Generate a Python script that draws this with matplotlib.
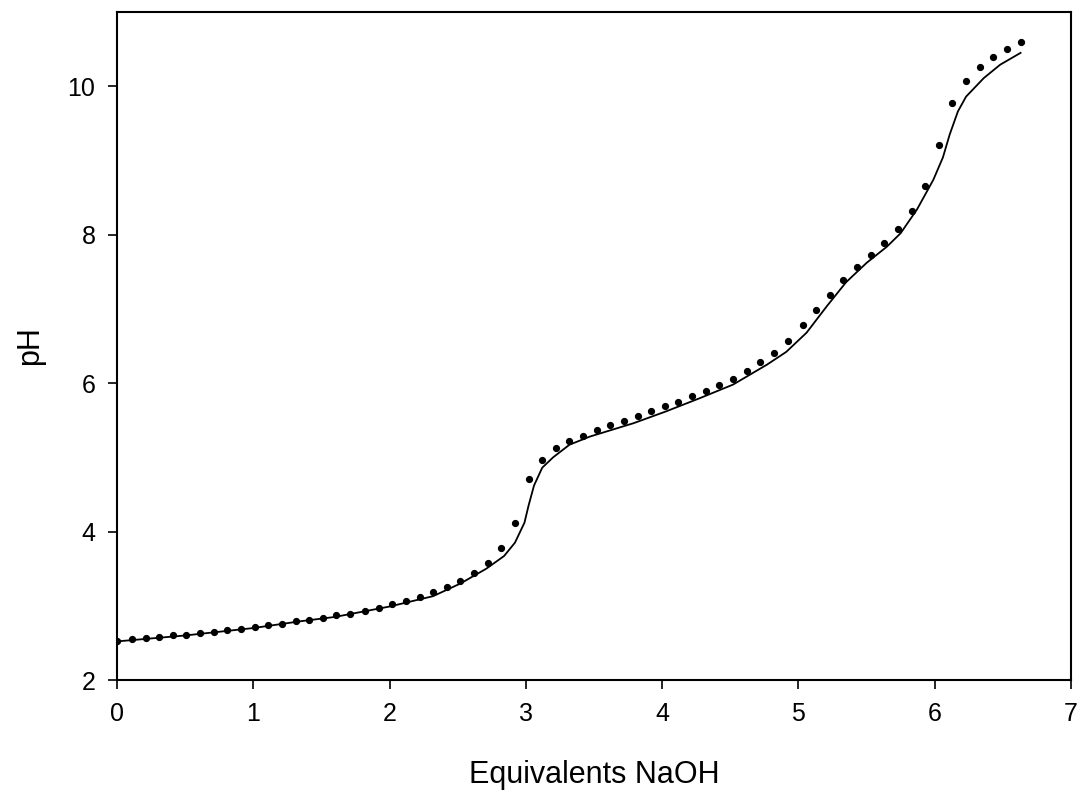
import numpy as np
import matplotlib as mpl
mpl.use('Agg')
import matplotlib.pyplot as plt

# measured titration points (equivalents NaOH, pH)
eq_points = [0.00, 0.11, 0.21, 0.31, 0.41, 0.51, 0.61, 0.71, 0.81, 0.91,
             1.01, 1.11, 1.21, 1.31, 1.41, 1.51, 1.61, 1.71, 1.82, 1.92,
             2.02, 2.12, 2.22, 2.32, 2.42, 2.52, 2.62, 2.72, 2.82, 2.92,
             3.02, 3.12, 3.22, 3.32, 3.42, 3.52, 3.62, 3.72, 3.82, 3.92,
             4.02, 4.12, 4.22, 4.32, 4.42, 4.52, 4.62, 4.72, 4.82, 4.92,
             5.03, 5.13, 5.23, 5.33, 5.43, 5.53, 5.63, 5.73, 5.83, 5.93,
             6.03, 6.13, 6.23, 6.33, 6.43, 6.53, 6.63]
ph_points = [2.53, 2.55, 2.56, 2.58, 2.60, 2.61, 2.63, 2.65, 2.67, 2.69,
             2.71, 2.74, 2.76, 2.79, 2.81, 2.84, 2.87, 2.89, 2.93, 2.97,
             3.02, 3.07, 3.12, 3.19, 3.25, 3.34, 3.44, 3.58, 3.78, 4.12,
             4.71, 4.97, 5.12, 5.22, 5.29, 5.37, 5.43, 5.49, 5.56, 5.62,
             5.69, 5.75, 5.82, 5.89, 5.97, 6.06, 6.16, 6.28, 6.41, 6.57,
             6.78, 6.99, 7.19, 7.39, 7.56, 7.72, 7.89, 8.08, 8.32, 8.65,
             9.21, 9.77, 10.07, 10.26, 10.39, 10.50, 10.59]

# model curve
eq_fit = [0.00, 0.50, 1.00, 1.34, 1.60, 2.00, 2.32, 2.52, 2.71, 2.84,
          2.92, 2.99, 3.02, 3.06, 3.12, 3.20, 3.32, 3.47, 3.79, 4.03,
          4.28, 4.52, 4.77, 4.91, 5.06, 5.21, 5.35, 5.50, 5.65, 5.75,
          5.87, 5.99, 6.06, 6.11, 6.17, 6.23, 6.36, 6.48, 6.63]
ph_fit = [2.52, 2.60, 2.70, 2.79, 2.85, 2.99, 3.13, 3.30, 3.50, 3.67,
          3.85, 4.12, 4.35, 4.62, 4.86, 5.00, 5.17, 5.28, 5.46, 5.62,
          5.80, 5.98, 6.25, 6.42, 6.68, 7.04, 7.36, 7.62, 7.84, 8.02,
          8.34, 8.74, 9.04, 9.35, 9.66, 9.86, 10.11, 10.29, 10.45]

plt.rcParams['font.family'] = ['Liberation Sans', 'DejaVu Sans']

fig = plt.figure(figsize=(10.78, 7.92), dpi=100)
ax = fig.add_axes([0.1085, 0.1414, 0.885, 0.8434])

ax.plot(eq_fit, ph_fit, color='black', linewidth=1.3, solid_joinstyle='round')
ax.plot(eq_points, ph_points, linestyle='none', marker='o', markersize=4.2,
        color='black')

ax.set_xlim(0, 7)
ax.set_ylim(2, 11)
ax.set_xticks(range(0, 8))
ax.set_yticks([2, 4, 6, 8, 10])
ax.tick_params(direction='out', length=6.5, width=1.2, labelsize=18, pad=9)
for s in ax.spines.values():
    s.set_linewidth(1.5)

ax.set_xlabel('Equivalents NaOH', fontsize=22, labelpad=25)
ax.set_ylabel('pH', fontsize=22, labelpad=16)

fig.savefig('out.png', dpi=100)
